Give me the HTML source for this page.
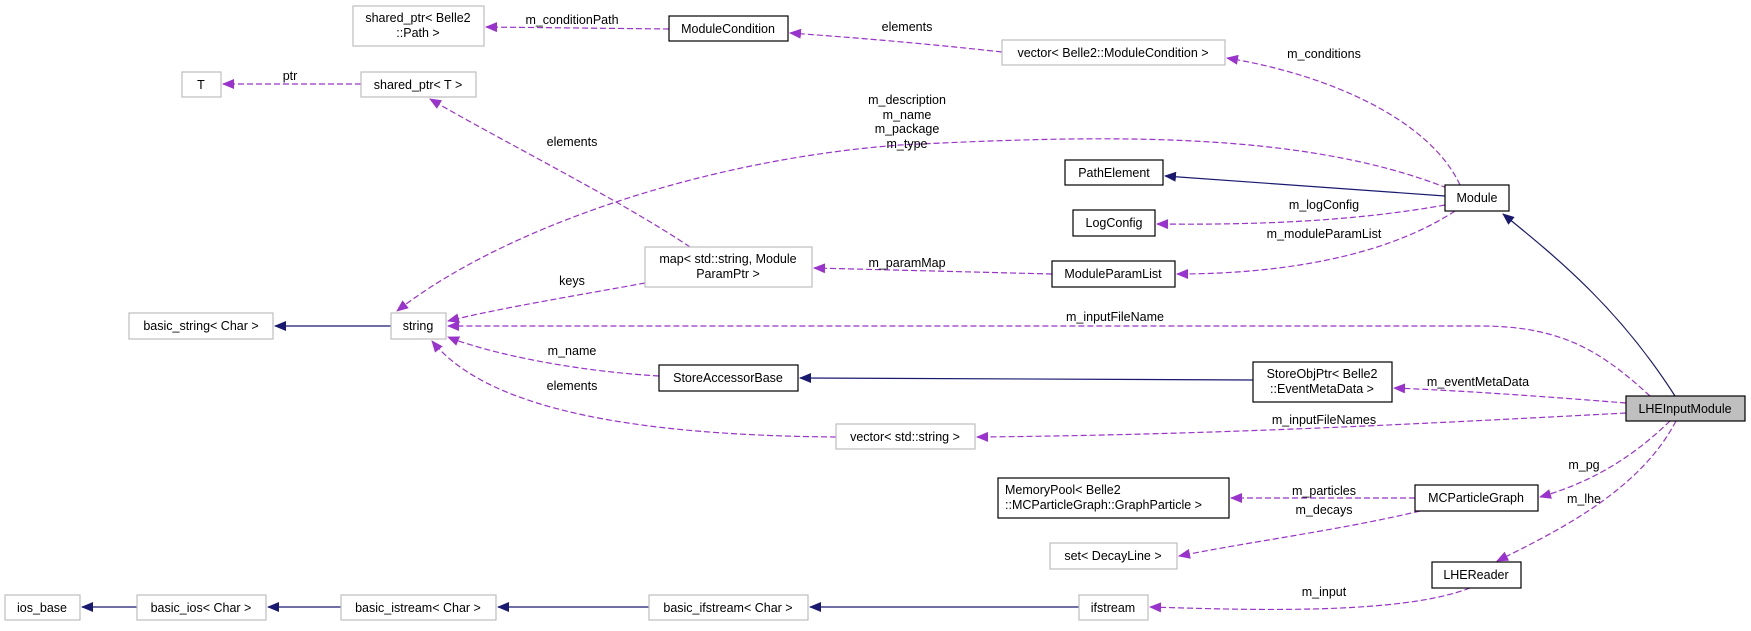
<!DOCTYPE html>
<html><head><meta charset="utf-8"><style>
html,body{margin:0;padding:0;background:#fff;}
svg text{font-family:"Liberation Sans",Arial,sans-serif;font-size:12.5px;fill:#000;}
.g{fill:#fff;stroke:#bfbfbf;stroke-width:1.2}
.b{fill:#fff;stroke:#000;stroke-width:1.2}
.d{fill:none;stroke:#9a32cd;stroke-width:1.2;stroke-dasharray:6,3;marker-end:url(#ap)}
.s{fill:none;stroke:#191970;stroke-width:1.2;marker-end:url(#an)}
</style></head><body>
<svg width="1751" height="626" viewBox="0 0 1751 626" xmlns="http://www.w3.org/2000/svg">
<defs>
<marker id="ap" markerWidth="12" markerHeight="10" refX="11" refY="5" orient="auto" markerUnits="userSpaceOnUse"><path d="M0,0 L12,5 L0,10 z" fill="#9a32cd"/></marker>
<marker id="an" markerWidth="12" markerHeight="10" refX="11" refY="5" orient="auto" markerUnits="userSpaceOnUse"><path d="M0,0 L12,5 L0,10 z" fill="#191970"/></marker>
</defs>

<!-- edges -->
<path class="d" d="M669,29 L486,27"/>
<path class="d" d="M1002,52 C930,44 860,38 790,33"/>
<path class="d" d="M361,84 L223,84"/>
<path class="d" d="M1460,185 C1430,120 1330,75 1227,58"/>
<path class="d" d="M1447,188 C1300,130 1100,135 900,145 C700,160 500,230 397,311"/>
<path class="s" d="M1445,196 L1165,176"/>
<path class="d" d="M1445,205 C1350,222 1250,225 1157,224"/>
<path class="d" d="M1455,211 C1380,260 1270,274 1177,274"/>
<path class="d" d="M1052,274 L814,268"/>
<path class="d" d="M690,247 C620,200 500,140 430,99"/>
<path class="d" d="M645,283 C580,295 500,308 448,321"/>
<path class="s" d="M391,326 L275,326"/>
<path class="d" d="M1650,396 C1600,350 1560,326 1480,326 L448,326"/>
<path class="s" d="M1675,396 C1620,310 1560,260 1503,214"/>
<path class="d" d="M659,376 C560,370 480,350 448,337"/>
<path class="s" d="M1253,380 C1100,379 950,378 800,378"/>
<path class="d" d="M1626,403 C1550,397 1470,391 1394,388"/>
<path class="d" d="M836,437 C600,435 480,400 432,341"/>
<path class="d" d="M1626,413 C1400,425 1200,435 977,437"/>
<path class="d" d="M1670,421 C1640,450 1600,480 1540,497"/>
<path class="d" d="M1676,421 C1640,490 1560,530 1497,561"/>
<path class="d" d="M1415,498 L1231,498"/>
<path class="d" d="M1420,511 C1340,530 1260,540 1179,556"/>
<path class="d" d="M1470,588 C1400,615 1250,610 1150,607"/>
<path class="s" d="M1079,607 L810,607"/>
<path class="s" d="M649,607 L498,607"/>
<path class="s" d="M341,607 L268,607"/>
<path class="s" d="M137,607 L82,607"/>

<!-- edge labels -->
<g text-anchor="middle">
<text x="572" y="24">m_conditionPath</text>
<text x="907" y="31">elements</text>
<text x="290" y="80">ptr</text>
<text x="1324" y="58">m_conditions</text>
<text x="907" y="104">m_description</text>
<text x="907" y="119">m_name</text>
<text x="907" y="133">m_package</text>
<text x="907" y="148">m_type</text>
<text x="572" y="146">elements</text>
<text x="1324" y="209">m_logConfig</text>
<text x="1324" y="238">m_moduleParamList</text>
<text x="907" y="267">m_paramMap</text>
<text x="572" y="285">keys</text>
<text x="1115" y="321">m_inputFileName</text>
<text x="572" y="355">m_name</text>
<text x="572" y="390">elements</text>
<text x="1478" y="386">m_eventMetaData</text>
<text x="1324" y="424">m_inputFileNames</text>
<text x="1584" y="469">m_pg</text>
<text x="1584" y="503">m_lhe</text>
<text x="1324" y="495">m_particles</text>
<text x="1324" y="514">m_decays</text>
<text x="1324" y="596">m_input</text>
</g>

<!-- nodes -->
<g text-anchor="middle">
<rect class="g" x="353" y="6" width="131" height="40"/><text x="418" y="22">shared_ptr&lt; Belle2</text><text x="418" y="37">::Path &gt;</text>
<rect class="b" x="669" y="16" width="119" height="25"/><text x="728" y="33">ModuleCondition</text>
<rect class="g" x="1002" y="40" width="223" height="25"/><text x="1113" y="57">vector&lt; Belle2::ModuleCondition &gt;</text>
<rect class="g" x="182" y="72" width="39" height="25"/><text x="201" y="89">T</text>
<rect class="g" x="361" y="72" width="115" height="25"/><text x="418" y="89">shared_ptr&lt; T &gt;</text>
<rect class="b" x="1065" y="160" width="98" height="25"/><text x="1114" y="177">PathElement</text>
<rect class="b" x="1445" y="185" width="64" height="26"/><text x="1477" y="202">Module</text>
<rect class="b" x="1073" y="210" width="82" height="26"/><text x="1114" y="227">LogConfig</text>
<rect class="g" x="645" y="247" width="167" height="40"/><text x="728" y="263">map&lt; std::string, Module</text><text x="728" y="278">ParamPtr &gt;</text>
<rect class="b" x="1052" y="261" width="123" height="26"/><text x="1113" y="278">ModuleParamList</text>
<rect class="g" x="129" y="313" width="144" height="26"/><text x="201" y="330">basic_string&lt; Char &gt;</text>
<rect class="g" x="391" y="313" width="55" height="26"/><text x="418" y="330">string</text>
<rect class="b" x="659" y="365" width="139" height="26"/><text x="728" y="382">StoreAccessorBase</text>
<rect class="b" x="1253" y="362" width="139" height="40"/><text x="1322" y="378">StoreObjPtr&lt; Belle2</text><text x="1322" y="393">::EventMetaData &gt;</text>
<rect x="1626" y="396" width="119" height="25" fill="#bfbfbf" stroke="#000" stroke-width="1.2"/><text x="1685" y="413">LHEInputModule</text>
<rect class="g" x="836" y="424" width="139" height="25"/><text x="905" y="441">vector&lt; std::string &gt;</text>
<rect class="b" x="998" y="478" width="231" height="40"/><text x="1005" y="494" text-anchor="start">MemoryPool&lt; Belle2</text><text x="1005" y="509" text-anchor="start">::MCParticleGraph::GraphParticle &gt;</text>
<rect class="b" x="1415" y="485" width="123" height="26"/><text x="1476" y="502">MCParticleGraph</text>
<rect class="g" x="1050" y="543" width="127" height="26"/><text x="1113" y="560">set&lt; DecayLine &gt;</text>
<rect class="b" x="1432" y="562" width="89" height="26"/><text x="1476" y="579">LHEReader</text>
<rect class="g" x="5" y="595" width="75" height="25"/><text x="42" y="612">ios_base</text>
<rect class="g" x="137" y="595" width="129" height="25"/><text x="201" y="612">basic_ios&lt; Char &gt;</text>
<rect class="g" x="341" y="595" width="155" height="25"/><text x="418" y="612">basic_istream&lt; Char &gt;</text>
<rect class="g" x="649" y="595" width="159" height="25"/><text x="728" y="612">basic_ifstream&lt; Char &gt;</text>
<rect class="g" x="1079" y="595" width="69" height="25"/><text x="1113" y="612">ifstream</text>
</g>
</svg>
</body></html>
